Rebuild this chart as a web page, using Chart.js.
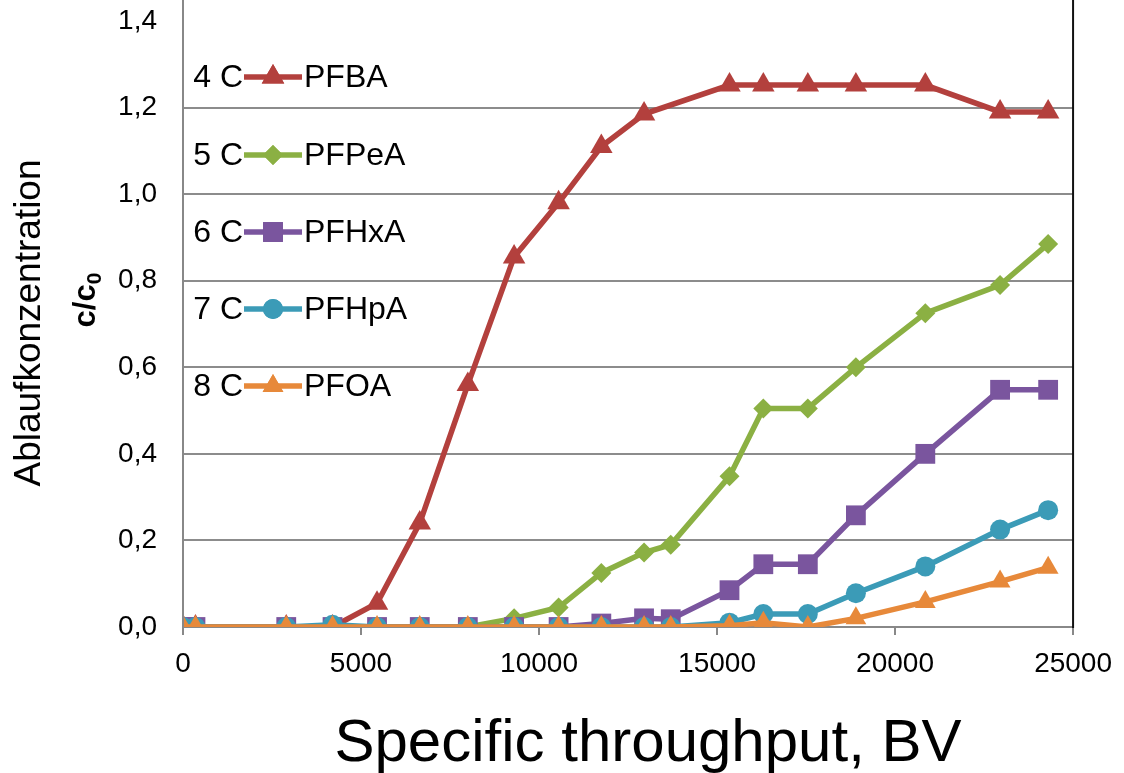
<!DOCTYPE html>
<html>
<head>
<meta charset="utf-8">
<script src="https://cdn.jsdelivr.net/npm/chart.js@4.4.1/dist/chart.umd.min.js"></script>
<style>
  html, body { margin: 0; padding: 0; background: #fff; }
  #wrap { width: 1124px; height: 773px; }
</style>
</head>
<body>
<div id="wrap"><canvas id="myChart"></canvas></div>
<script>
// specific throughput (BV) for each sample
const throughput = [0, 350, 2900, 4200, 5450, 6650, 8000, 9300, 10550, 11750, 12950, 13700, 15350, 16300, 17550, 18900, 20850, 22950, 24300];

// c/c0 per compound (null = no sample)
const pfba  = [0, 0, 0, 0, 0.055, 0.24, 0.56, 0.855, 0.98, 1.11, 1.185, null, 1.252, 1.252, 1.252, 1.252, 1.252, 1.19, 1.19];
const pfpea = [0, 0, 0, 0, 0, 0, 0, 0.02, 0.045, 0.125, 0.172, 0.19, 0.348, 0.505, 0.505, 0.6, 0.725, 0.79, 0.885];
const pfhxa = [0, 0, 0, 0, 0, 0, 0, 0, 0, 0.008, 0.02, 0.018, 0.085, 0.145, 0.145, 0.258, 0.4, 0.548, 0.548];
const pfhpa = [0, 0, 0, 0.005, 0, 0, 0, 0, 0, 0, 0, 0, 0.01, 0.03, 0.03, 0.078, 0.14, 0.225, 0.27];
const pfoa  = [0, 0, 0, 0, 0, 0, 0, 0, 0, 0, 0, 0, 0.003, 0.01, 0, 0.02, 0.058, 0.105, 0.137];

const compounds = ['PFBA', 'PFPeA', 'PFHxA', 'PFHpA', 'PFOA'];
const chainLabels = ['4 C', '5 C', '6 C', '7 C', '8 C'];
const yTicks = [0, 0.2, 0.4, 0.6, 0.8, 1.0, 1.2, 1.4];
const xTicks = [0, 5000, 10000, 15000, 20000, 25000];

const colors = {
  red: '#b3403d',
  green: '#8bb043',
  purple: '#7a559e',
  teal: '#3b9bb7',
  orange: '#e7893a',
};

const FONT = '"Liberation Sans", Arial, sans-serif';

const toPoints = (ys) => throughput.map((x, i) => ({ x: x, y: ys[i] }));

const series = [
  { label: compounds[0], data: pfba,  color: colors.red,    style: 'triangle', r: 13 },
  { label: compounds[1], data: pfpea, color: colors.green,  style: 'rectRot',  r: 10 },
  { label: compounds[2], data: pfhxa, color: colors.purple, style: 'rect',     r: 14 },
  { label: compounds[3], data: pfhpa, color: colors.teal,   style: 'circle',   r: 10 },
  { label: compounds[4], data: pfoa,  color: colors.orange, style: 'triangle', r: 12 },
];

// legend drawn inside the plot, with the chain length in front
const inlineLegend = {
  id: 'inlineLegend',
  afterDatasetsDraw(chart) {
    const ctx = chart.ctx;
    const rows = [77, 155, 232, 309, 386];
    ctx.save();
    ctx.font = '32px ' + FONT;
    ctx.textBaseline = 'middle';
    series.forEach((s, i) => {
      const y = rows[i];
      ctx.fillStyle = '#000';
      ctx.textAlign = 'right';
      ctx.fillText(chainLabels[i], 243, y + 1);
      ctx.strokeStyle = s.color;
      ctx.lineWidth = 5.5;
      ctx.beginPath();
      ctx.moveTo(244, y);
      ctx.lineTo(302, y);
      ctx.stroke();
      ctx.fillStyle = s.color;
      Chart.helpers.drawPoint(ctx, { pointStyle: s.style, radius: s.r, borderWidth: 0 }, 273, y);
      ctx.fill();
      ctx.fillStyle = '#000';
      ctx.textAlign = 'left';
      ctx.fillText(s.label, 304, y + 1);
    });
    ctx.restore();
  },
};

const axisTitles = {
  id: 'axisTitles',
  afterDraw(chart) {
    const ctx = chart.ctx;
    const area = chart.chartArea;
    ctx.save();
    // axis frame running up to the top edge
    ctx.lineWidth = 2;
    ctx.strokeStyle = '#888';
    ctx.beginPath();
    ctx.moveTo(area.left, 0);
    ctx.lineTo(area.left, area.bottom);
    ctx.stroke();
    ctx.strokeStyle = '#111';
    ctx.beginPath();
    ctx.moveTo(area.right, 0);
    ctx.lineTo(area.right, area.bottom + 1);
    ctx.stroke();

    ctx.fillStyle = '#000';
    ctx.translate(30, 323);
    ctx.rotate(-Math.PI / 2);
    ctx.textAlign = 'center';
    ctx.textBaseline = 'middle';
    ctx.font = '37px ' + FONT;
    ctx.fillText('Ablaufkonzentration', 0, 0);
    ctx.restore();

    ctx.save();
    ctx.fillStyle = '#000';
    ctx.translate(86, 300);
    ctx.rotate(-Math.PI / 2);
    ctx.textBaseline = 'middle';
    ctx.font = 'bold 31px ' + FONT;
    const main = 'c/c';
    const w = ctx.measureText(main).width;
    ctx.font = 'bold 21px ' + FONT;
    const w0 = ctx.measureText('0').width;
    const start = -(w + w0) / 2;
    ctx.textAlign = 'left';
    ctx.font = 'bold 31px ' + FONT;
    ctx.fillText(main, start, 0);
    ctx.font = 'bold 21px ' + FONT;
    ctx.fillText('0', start + w, 9);
    ctx.restore();

    ctx.save();
    ctx.fillStyle = '#000';
    ctx.textAlign = 'center';
    ctx.textBaseline = 'alphabetic';
    ctx.font = '60px ' + FONT;
    ctx.fillText('Specific throughput, BV', 648, 761);
    ctx.restore();
  },
};

const ctx = document.getElementById('myChart').getContext('2d');

const config = {
  type: 'line',
  data: {
    datasets: series.map((s, i) => ({
      label: s.label,
      data: toPoints(s.data),
      borderColor: s.color,
      backgroundColor: s.color,
      pointBackgroundColor: s.color,
      pointBorderColor: s.color,
      pointBorderWidth: 0,
      pointStyle: s.style,
      pointRadius: s.r,
      borderWidth: 5.5,
      tension: 0,
      spanGaps: true,
      order: series.length - i,
    })),
  },
  options: {
    responsive: true,
    maintainAspectRatio: false,
    animation: false,
    layout: { padding: { left: 0, top: 21, right: 49, bottom: 0 } },
    plugins: {
      legend: { display: false },
      tooltip: { enabled: false },
    },
    scales: {
      x: {
        type: 'linear',
        min: 0,
        max: 25000,
        afterBuildTicks: (scale) => { scale.ticks = xTicks.map((v) => ({ value: v })); },
        afterFit: (scale) => { scale.height = 146; },
        ticks: {
          callback: (v) => String(v),
          font: { family: FONT, size: 28 },
          color: '#000',
          padding: 12,
          maxRotation: 0,
        },
        grid: { drawOnChartArea: false, drawTicks: true, tickLength: 8, color: '#888', lineWidth: 2 },
        border: { color: '#888', width: 2 },
      },
      y: {
        min: 0,
        max: 1.4,
        afterBuildTicks: (scale) => { scale.ticks = yTicks.map((v) => ({ value: v })); },
        afterFit: (scale) => { scale.width = 183; },
        ticks: {
          callback: (v) => v.toFixed(1).replace('.', ','),
          font: { family: FONT, size: 28 },
          color: '#000',
          padding: 0,
        },
        grid: {
          drawTicks: true,
          tickLength: 26,
          tickColor: 'rgba(0,0,0,0)',
          lineWidth: 2,
          color: (c) => (c.tick && c.tick.value >= 1.4 ? 'rgba(0,0,0,0)' : '#8c8c8c'),
        },
        border: { color: '#888', width: 2 },
      },
    },
  },
  plugins: [inlineLegend, axisTitles],
};

const myLineChart = new Chart(ctx, config);
</script>
</body>
</html>
